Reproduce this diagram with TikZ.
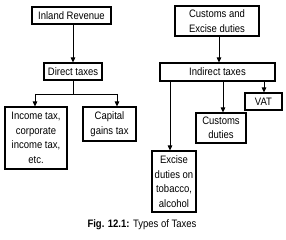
\documentclass[tikz,border=0pt]{standalone}
\usepackage{fontspec}
\setmainfont{Liberation Sans}[FakeStretch=0.88]
\usetikzlibrary{arrows.meta}
\begin{document}
\begin{tikzpicture}[x=1pt,y=-1pt,
  box/.style={draw,line width=1.1pt,inner sep=0pt,align=center,
    font=\fontsize{10.8}{14.5}\selectfont},
  conn/.style={line width=0.9pt},
  arr/.style={line width=0.9pt,-{Triangle[length=5pt,width=4.5pt]}}]
\useasboundingbox (0,0) rectangle (286,240);
% left tree
\node[box,minimum width=79pt,minimum height=17pt] (inland) at (71.5,15.5) {Inland Revenue};
\node[box,minimum width=58pt,minimum height=17pt] (direct) at (73,71.5) {Direct taxes};
\node[box,minimum width=62pt,minimum height=62pt] (income) at (36,138) {Income tax,\\corporate\\income tax,\\etc.};
\node[box,minimum width=53pt,minimum height=34pt] (capital) at (109.5,124) {Capital\\gains tax};
% right tree
\node[box,minimum width=84pt,minimum height=30pt] (custexc) at (217,21) {Customs and\\Excise duties};
\node[box,minimum width=115pt,minimum height=18pt] (indirect) at (217.5,72) {Indirect taxes};
\node[box,minimum width=37pt,minimum height=17pt] (vat) at (263.5,101.5) {VAT};
\node[box,minimum width=50pt,minimum height=30pt] (customs) at (221,128) {Customs\\duties};
\node[box,minimum width=44pt,minimum height=61pt] (excise) at (174,181.5) {Excise\\duties on\\tobacco,\\alcohol};
% caption
\node[font=\fontsize{10.8}{12}\selectfont,inner sep=0pt] (cap) at (142,224.5) {\textbf{Fig. 12.1:} Types of Taxes};
% connectors left
\coordinate (jm) at (73,94);
\coordinate (jl) at (35,94);
\coordinate (jr) at (117,94);
\draw[arr] (direct.north |- inland.south) -- (direct.north);
\draw[conn] (direct.south) -- (jm);
\draw[conn] (jl) -- (jr);
\draw[arr] (jl) -- (jl |- income.north);
\draw[arr] (jr) -- (jr |- capital.north);
% connectors right
\coordinate (a1) at (219,0);
\coordinate (b1) at (170,0);
\coordinate (b2) at (223,0);
\coordinate (b3) at (264,0);
\draw[arr] (a1 |- custexc.south) -- (a1 |- indirect.north);
\draw[arr] (b1 |- indirect.south) -- (b1 |- excise.north);
\draw[arr] (b2 |- indirect.south) -- (b2 |- customs.north);
\draw[arr] (b3 |- indirect.south) -- (b3 |- vat.north);
\end{tikzpicture}
\end{document}
